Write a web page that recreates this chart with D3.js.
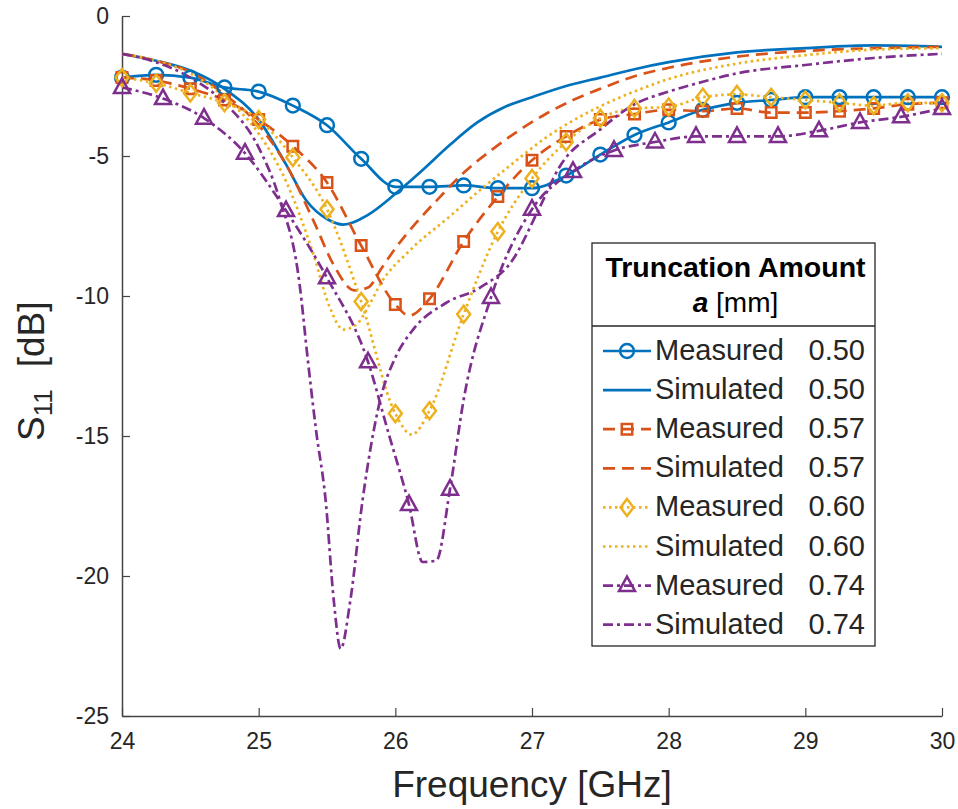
<!DOCTYPE html>
<html>
<head>
<meta charset="utf-8">
<script src="https://cdn.jsdelivr.net/npm/d3@7"></script>
<style>
  html, body { margin: 0; padding: 0; background: #fff; }
  svg { display: block; font-family: "Liberation Sans", Arial, Helvetica, sans-serif; }
</style>
</head>
<body>
<svg id="chart" width="958" height="809"></svg>
<script>
// S11 reflection coefficient vs frequency for four truncation amounts.
// Each series is a list of [frequency GHz, S11 dB].

const xTicks = [24, 25, 26, 27, 28, 29, 30];
const yTicks = [0, -5, -10, -15, -20, -25];

const meas050 = [
  [24.0, -2.2], [24.25, -2.1], [24.5, -2.2], [24.75, -2.55], [25.0, -2.7],
  [25.25, -3.2], [25.5, -3.9], [25.75, -5.1], [26.0, -6.1], [26.25, -6.1],
  [26.5, -6.05], [26.75, -6.15], [27.0, -6.15], [27.25, -5.7], [27.5, -4.95],
  [27.75, -4.25], [28.0, -3.8], [28.25, -3.35], [28.5, -3.1], [28.75, -3.0],
  [29.0, -2.9], [29.25, -2.9], [29.5, -2.9], [29.75, -2.9], [30.0, -2.9]
];
const sim050 = [
  [24.0, -1.35], [24.25, -1.6], [24.5, -1.95], [24.75, -2.6], [25.0, -3.7],
  [25.2, -5.3], [25.35, -6.6], [25.5, -7.25], [25.62, -7.45], [25.8, -7.1],
  [26.0, -6.35], [26.2, -5.5], [26.4, -4.6], [26.6, -3.8], [26.8, -3.25],
  [27.0, -2.9], [27.25, -2.5], [27.5, -2.2], [27.75, -1.9], [28.0, -1.65],
  [28.5, -1.3], [29.0, -1.15], [29.5, -1.05], [30.0, -1.1]
];

const meas057 = [
  [24.0, -2.2], [24.25, -2.3], [24.5, -2.6], [24.75, -3.0], [25.0, -3.7],
  [25.25, -4.65], [25.5, -5.95], [25.75, -8.2], [26.0, -10.3], [26.1, -10.7],
  [26.25, -10.1], [26.5, -8.05], [26.75, -6.45], [27.0, -5.15], [27.25, -4.3],
  [27.5, -3.7], [27.75, -3.5], [28.0, -3.35], [28.25, -3.4], [28.5, -3.3],
  [28.75, -3.45], [29.0, -3.45], [29.25, -3.4], [29.5, -3.3], [29.75, -3.15],
  [30.0, -3.1]
];
const sim057 = [
  [24.0, -1.35], [24.25, -1.6], [24.5, -2.0], [24.75, -2.8], [25.0, -3.9],
  [25.2, -5.3], [25.4, -7.3], [25.55, -8.9], [25.7, -9.8], [25.8, -9.7],
  [25.9, -9.0], [26.0, -8.3], [26.15, -7.4], [26.3, -6.6], [26.5, -5.6],
  [26.7, -4.8], [26.9, -4.1], [27.1, -3.5], [27.3, -3.0], [27.5, -2.6],
  [27.75, -2.15], [28.0, -1.85], [28.5, -1.45], [29.0, -1.25], [29.5, -1.15],
  [30.0, -1.1]
];

const meas060 = [
  [24.0, -2.2], [24.25, -2.4], [24.5, -2.75], [24.75, -3.1], [25.0, -3.7],
  [25.25, -5.05], [25.5, -6.9], [25.75, -10.2], [26.0, -14.2], [26.12, -14.95],
  [26.25, -14.1], [26.5, -10.65], [26.75, -7.7], [27.0, -5.8], [27.25, -4.5],
  [27.5, -3.65], [27.75, -3.3], [28.0, -3.25], [28.25, -2.9], [28.5, -2.8],
  [28.75, -2.9], [29.0, -3.0], [29.25, -3.1], [29.5, -3.2], [29.75, -3.1],
  [30.0, -3.1]
];
const sim060 = [
  [24.0, -1.35], [24.25, -1.6], [24.5, -2.05], [24.75, -2.9], [25.0, -4.2],
  [25.2, -5.9], [25.4, -8.5], [25.52, -10.4], [25.62, -11.2], [25.72, -11.0],
  [25.8, -10.4], [25.9, -9.5], [26.1, -8.4], [26.4, -7.15], [26.6, -6.3],
  [26.85, -5.3], [27.1, -4.35], [27.35, -3.6], [27.6, -3.0], [27.8, -2.6],
  [28.0, -2.25], [28.5, -1.7], [29.0, -1.4], [29.5, -1.2], [30.0, -1.15]
];

const meas074 = [
  [24.0, -2.55], [24.3, -2.95], [24.6, -3.65], [24.9, -4.9], [25.2, -6.95],
  [25.5, -9.35], [25.8, -12.35], [25.95, -14.9], [26.1, -17.45], [26.2, -19.5],
  [26.3, -19.45], [26.4, -16.9], [26.5, -13.7], [26.7, -10.05], [27.0, -6.9],
  [27.3, -5.55], [27.6, -4.8], [27.9, -4.5], [28.2, -4.3], [28.5, -4.3],
  [28.8, -4.3], [29.1, -4.1], [29.4, -3.8], [29.7, -3.6], [30.0, -3.3]
];
const sim074 = [
  [24.0, -1.35], [24.25, -1.65], [24.5, -2.2], [24.75, -3.1], [25.0, -4.7],
  [25.15, -6.5], [25.3, -9.6], [25.36, -12.3], [25.42, -14.8], [25.49, -17.3],
  [25.55, -20.9], [25.6, -22.6], [25.67, -20.9], [25.76, -17.3], [25.89, -13.7],
  [26.0, -12.2], [26.13, -11.2], [26.37, -10.25], [26.62, -9.7],
  [26.86, -8.7], [27.04, -7.0], [27.2, -5.4], [27.5, -4.05], [27.75, -3.15],
  [28.0, -2.7], [28.25, -2.35], [28.5, -2.05], [29.0, -1.75], [29.5, -1.5],
  [30.0, -1.35]
];

const legendNames = ["Measured", "Simulated", "Measured", "Simulated",
                     "Measured", "Simulated", "Measured", "Simulated"];
const legendValues = ["0.50", "0.50", "0.57", "0.57", "0.60", "0.60", "0.74", "0.74"];

const colors = { c050: "#0072BD", c057: "#D95319", c060: "#EDB120", c074: "#7E2F8E" };

const series = [
  { data: meas050, color: colors.c050, dash: null, marker: "circle", step: 0.25 },
  { data: sim050, color: colors.c050, dash: null, marker: null },
  { data: meas057, color: colors.c057, dash: "12,7", marker: "square", step: 0.25 },
  { data: sim057, color: colors.c057, dash: "12,7", marker: null },
  { data: meas060, color: colors.c060, dash: "2.5,3.5", marker: "diamond", step: 0.25 },
  { data: sim060, color: colors.c060, dash: "2.5,3.5", marker: null },
  { data: meas074, color: colors.c074, dash: "10,4,3,4", marker: "triangle", step: 0.3 },
  { data: sim074, color: colors.c074, dash: "10,4,3,4", marker: null }
];

const svg = d3.select("#chart");
const plotL = 122, plotR = 942, plotT = 16, plotB = 716;

const x = d3.scaleLinear().domain([24, 30]).range([plotL, plotR]);
const y = d3.scaleLinear().domain([-25, 0]).range([plotB, plotT]);

svg.append("defs").append("clipPath").attr("id", "plotClip")
  .append("rect").attr("x", plotL).attr("y", plotT - 2)
  .attr("width", plotR - plotL).attr("height", plotB - plotT + 2);

const axisColor = "#444";
const plainNum = d => String(d);

// Axes: left and bottom only, ticks pointing inward
const xAxis = d3.axisBottom(x).tickValues(xTicks).tickSizeInner(-8).tickSizeOuter(0).tickPadding(17)
  .tickFormat(plainNum);
const gx = svg.append("g").attr("transform", `translate(0,${plotB})`).call(xAxis);
gx.select(".domain").attr("stroke", axisColor).attr("stroke-width", 1.5);
gx.selectAll(".tick line").attr("stroke", axisColor).attr("stroke-width", 1.2);
gx.selectAll(".tick text").attr("fill", "#262626").attr("font-size", 23)
  .attr("font-family", "'Liberation Sans', Arial, sans-serif");

const yAxis = d3.axisLeft(y).tickValues(yTicks).tickSizeInner(-8).tickSizeOuter(0).tickPadding(13)
  .tickFormat(plainNum);
const gy = svg.append("g").attr("transform", `translate(${plotL},0)`).call(yAxis);
gy.select(".domain").attr("stroke", axisColor).attr("stroke-width", 1.5);
gy.selectAll(".tick line").attr("stroke", axisColor).attr("stroke-width", 1.2);
gy.selectAll(".tick text").attr("fill", "#262626").attr("font-size", 23)
  .attr("font-family", "'Liberation Sans', Arial, sans-serif");

// Axis titles
svg.append("text")
  .attr("x", (plotL + plotR) / 2).attr("y", 797)
  .attr("text-anchor", "middle").attr("font-size", 37).attr("fill", "#262626")
  .text("Frequency [GHz]");

const yl = svg.append("text")
  .attr("transform", "translate(44,441) rotate(-90)")
  .attr("text-anchor", "start").attr("font-size", 37).attr("fill", "#262626");
yl.append("tspan").text("S");
yl.append("tspan").attr("font-size", 26).attr("dy", 8).text("11");
yl.append("tspan").attr("dy", -8).attr("dx", 22).text("[dB]");

// Marker shapes
function markerPath(type) {
  if (type === "circle") return d3.symbol(d3.symbolCircle, 150)();
  if (type === "square") return d3.symbol(d3.symbolSquare, 110)();
  if (type === "diamond") return "M0,-8.5L6.5,0L0,8.5L-6.5,0Z";
  if (type === "triangle") return "M0,-9L8,5.5L-8,5.5Z";
  return null;
}

const line = d3.line().x(d => x(d[0])).y(d => y(d[1])).curve(d3.curveMonotoneX);

const plot = svg.append("g").attr("clip-path", "url(#plotClip)");

series.forEach(s => {
  plot.append("path")
    .attr("d", line(s.data))
    .attr("fill", "none")
    .attr("stroke", s.color)
    .attr("stroke-width", 2.7)
    .attr("stroke-dasharray", s.dash)
    .attr("stroke-linejoin", "round");
  if (s.marker) {
    const pts = s.data.filter(d => {
      const k = (d[0] - 24) / s.step;
      return Math.abs(k - Math.round(k)) < 1e-6;
    });
    svg.append("g").selectAll("path").data(pts).join("path")
      .attr("transform", d => `translate(${x(d[0])},${y(d[1])})`)
      .attr("d", markerPath(s.marker))
      .attr("fill", "none")
      .attr("stroke", s.color)
      .attr("stroke-width", 2.5);
  }
});

// Legend
const lg = svg.append("g");
const lgL = 592, lgR = 875, lgT = 243, lgB = 646, lgSep = 326;
lg.append("rect").attr("x", lgL).attr("y", lgT).attr("width", lgR - lgL).attr("height", lgB - lgT)
  .attr("fill", "#fff").attr("stroke", "#262626").attr("stroke-width", 1.3);
lg.append("line").attr("x1", lgL).attr("x2", lgR).attr("y1", lgSep).attr("y2", lgSep)
  .attr("stroke", "#262626").attr("stroke-width", 1.3);
const mid = (lgL + lgR) / 2 + 2;
lg.append("text").attr("x", mid).attr("y", 277).attr("text-anchor", "middle")
  .attr("font-size", 28.5).attr("font-weight", "bold").attr("fill", "#000")
  .text("Truncation Amount");
const sub = lg.append("text").attr("x", mid).attr("y", 312).attr("text-anchor", "middle")
  .attr("font-size", 28).attr("fill", "#000");
sub.append("tspan").attr("font-weight", "bold").attr("font-style", "italic").text("a");
sub.append("tspan").text(" [mm]");

series.forEach((s, i) => {
  const base = 360 + i * 39.1;
  const cy = base - 9;
  lg.append("line").attr("x1", 603).attr("x2", 651).attr("y1", cy).attr("y2", cy)
    .attr("stroke", s.color).attr("stroke-width", 2.7).attr("stroke-dasharray", s.dash);
  if (s.marker) {
    lg.append("path").attr("transform", `translate(627,${cy})`)
      .attr("d", markerPath(s.marker)).attr("fill", "none")
      .attr("stroke", s.color).attr("stroke-width", 2.5);
  }
  lg.append("text").attr("x", 655).attr("y", base).attr("font-size", 29).attr("fill", "#262626")
    .text(legendNames[i]);
  lg.append("text").attr("x", 865).attr("y", base).attr("text-anchor", "end")
    .attr("font-size", 29).attr("fill", "#262626").text(legendValues[i]);
});
</script>
</body>
</html>
